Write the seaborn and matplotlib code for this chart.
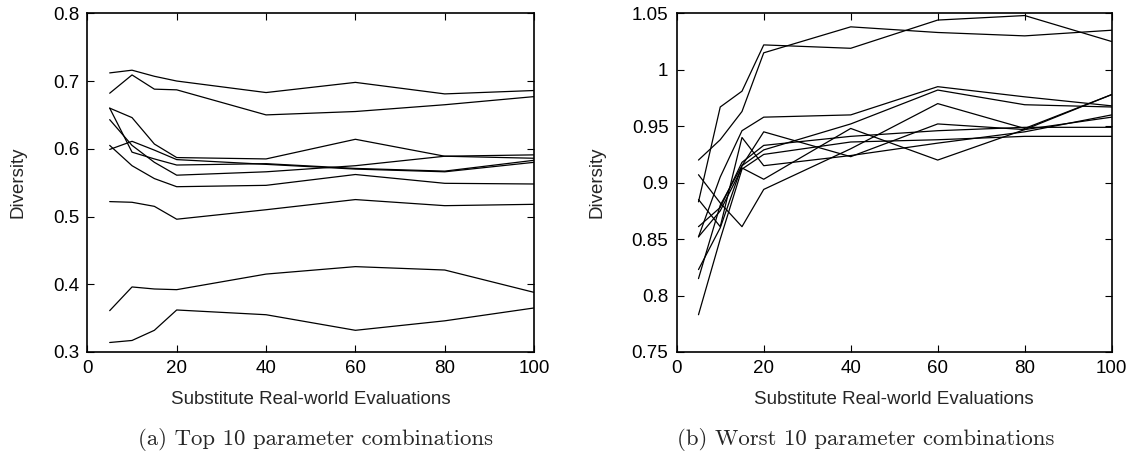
import numpy as np
import pandas as pd
import matplotlib
matplotlib.use("Agg")
import matplotlib.pyplot as plt
from matplotlib.ticker import FuncFormatter
import seaborn as sns

# ---- data ----
evaluations = [5, 10, 15, 20, 40, 60, 80, 100]

top_a1 = [0.712, 0.716, 0.707, 0.700, 0.683, 0.698, 0.681, 0.686]
top_a2 = [0.682, 0.709, 0.688, 0.687, 0.650, 0.655, 0.665, 0.677]
top_a3 = [0.660, 0.646, 0.607, 0.587, 0.585, 0.614, 0.589, 0.591]
top_a4 = [0.660, 0.595, 0.585, 0.576, 0.578, 0.571, 0.567, 0.583]
top_a5 = [0.643, 0.605, 0.580, 0.561, 0.566, 0.575, 0.589, 0.586]
top_a6 = [0.599, 0.611, 0.598, 0.584, 0.577, 0.570, 0.566, 0.580]
top_a7 = [0.605, 0.575, 0.556, 0.544, 0.546, 0.562, 0.549, 0.548]
top_a8 = [0.522, 0.521, 0.515, 0.496, 0.510, 0.525, 0.516, 0.518]
top_a9 = [0.361, 0.396, 0.393, 0.392, 0.415, 0.426, 0.421, 0.388]
top_a10 = [0.314, 0.317, 0.332, 0.362, 0.355, 0.332, 0.346, 0.365]

worst_b1 = [0.920, 0.938, 0.963, 1.015, 1.038, 1.033, 1.030, 1.035]
worst_b2 = [0.883, 0.967, 0.981, 1.022, 1.019, 1.044, 1.048, 1.025]
worst_b3 = [0.852, 0.905, 0.946, 0.958, 0.960, 0.985, 0.976, 0.968]
worst_b4 = [0.823, 0.860, 0.915, 0.929, 0.952, 0.982, 0.969, 0.967]
worst_b5 = [0.907, 0.882, 0.861, 0.894, 0.930, 0.970, 0.948, 0.978]
worst_b6 = [0.852, 0.875, 0.913, 0.903, 0.948, 0.920, 0.947, 0.978]
worst_b7 = [0.815, 0.880, 0.915, 0.945, 0.923, 0.952, 0.947, 0.958]
worst_b8 = [0.861, 0.878, 0.918, 0.933, 0.941, 0.946, 0.949, 0.949]
worst_b9 = [0.783, 0.850, 0.912, 0.925, 0.936, 0.938, 0.941, 0.941]
worst_b10 = [0.885, 0.861, 0.940, 0.915, 0.924, 0.935, 0.945, 0.960]

top_series = [top_a1, top_a2, top_a3, top_a4, top_a5,
              top_a6, top_a7, top_a8, top_a9, top_a10]
worst_series = [worst_b1, worst_b2, worst_b3, worst_b4, worst_b5,
                worst_b6, worst_b7, worst_b8, worst_b9, worst_b10]

x_label = "Substitute Real-world Evaluations"
y_label = "Diversity"
caption_a = "(a) Top 10 parameter combinations"
caption_b = "(b) Worst 10 parameter combinations"


def to_long(series):
    rows = []
    for i, s in enumerate(series):
        for x, y in zip(evaluations, s):
            rows.append({"run": i, "x": x, "y": y})
    return pd.DataFrame(rows)


sns.set_theme(style="ticks")
plt.rcParams["font.family"] = ["Liberation Sans", "DejaVu Sans"]

fig = plt.figure(figsize=(11.33, 4.68), dpi=100)
ax1 = fig.add_axes([0.0771, 0.2479, 0.3943, 0.7237])
ax2 = fig.add_axes([0.5973, 0.2479, 0.3839, 0.7237])

fmt = FuncFormatter(lambda v, p: "%g" % round(v, 4))

for ax, series, ylim, yticks, ylab_x in [
    (ax1, top_series, (0.3, 0.8), [0.3, 0.4, 0.5, 0.6, 0.7, 0.8], -0.155),
    (ax2, worst_series, (0.75, 1.05), [0.75, 0.8, 0.85, 0.9, 0.95, 1.0, 1.05], -0.183),
]:
    df = to_long(series)
    sns.lineplot(data=df, x="x", y="y", units="run", estimator=None,
                 color="black", linewidth=0.9, ax=ax, legend=False)
    ax.set_xlim(0, 100)
    ax.set_ylim(*ylim)
    ax.set_xticks([0, 20, 40, 60, 80, 100])
    ax.set_yticks(yticks)
    ax.yaxis.set_major_formatter(fmt)
    ax.xaxis.set_major_formatter(fmt)
    ax.tick_params(direction="in", top=True, right=True, length=5,
                   width=0.8, labelsize=13.5, colors="black", pad=6)
    for sp in ax.spines.values():
        sp.set_visible(True)
        sp.set_linewidth(1.2)
        sp.set_color("black")
    ax.set_xlabel(x_label, fontsize=13.5)
    ax.set_ylabel(y_label, fontsize=13.5)
    ax.xaxis.label.set_va("center")
    ax.xaxis.set_label_coords(0.5, -0.1417)
    ax.yaxis.label.set_va("center")
    ax.yaxis.set_label_coords(ylab_x, 0.5)

fig.text(0.2785, 0.06, caption_a, ha="center", va="center",
         family="cmr10", fontsize=16.4)
fig.text(0.7644, 0.06, caption_b, ha="center", va="center",
         family="cmr10", fontsize=16.4)

fig.savefig("out.png", dpi=100)
